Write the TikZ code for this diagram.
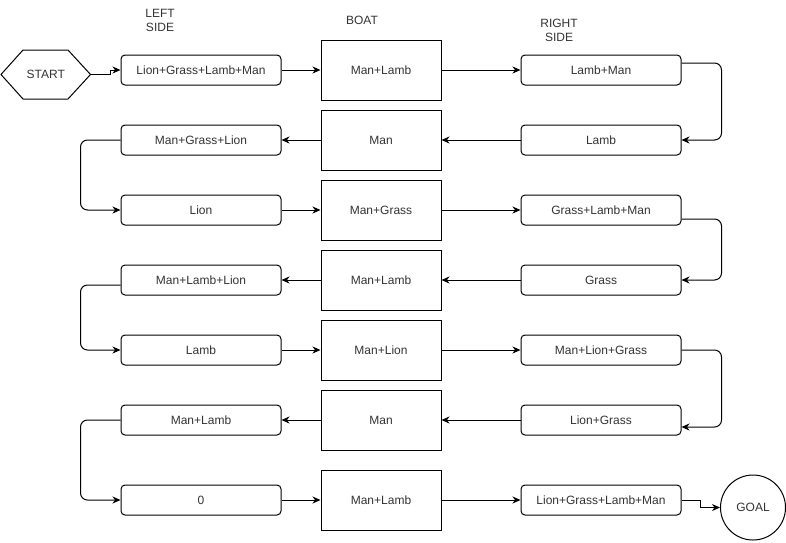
\documentclass[tikz,border=0pt]{standalone}
\usepackage{fontspec}
\setmainfont{Liberation Sans}
\usetikzlibrary{arrows.meta}

\begin{document}
\begin{tikzpicture}[
    x=1pt, y=-1pt,
    font=\fontsize{12}{14}\selectfont,
    every node/.style={text=black!80},
    side/.style={draw=black, line width=1pt, rounded corners=4pt,
                 minimum width=160pt, minimum height=30pt, inner sep=0pt},
    boat/.style={draw=black, line width=1pt,
                 minimum width=120pt, minimum height=60pt, inner sep=0pt},
    head/.style={align=center, inner sep=0pt},
    link/.style={draw=black, line width=1pt, rounded corners=7pt,
                 -{Stealth[length=8pt,width=7pt,inset=2.5pt]}}
  ]
  \useasboundingbox (0,0) rectangle (786,542);

  % column headings
  \node[head] (hleft)  at (160,20.5) {LEFT\\SIDE};
  \node[head] (hboat)  at (362,20.5) {BOAT};
  \node[head] (hright) at (559,30.5) {RIGHT\\SIDE};

  % start hexagon
  \draw[line width=1pt, line join=miter]
    (1,74.5) -- (23,50) -- (68,50) -- (90.5,74.5) -- (68,99) -- (23,99) -- cycle;
  \node[minimum width=89.5pt, minimum height=49pt, inner sep=0pt] (start) at (45.75,74.5) {START};

  % goal circle
  \node[draw=black, line width=1pt, circle, minimum size=65pt, inner sep=0pt] (goal) at (753,507.5) {GOAL};

  % rows: left bank, boat, right bank
  \node[side] (l1) at (201,70)  {Lion+Grass+Lamb+Man};
  \node[boat] (b1) at (381,70)  {Man+Lamb};
  \node[side] (r1) at (601,70)  {Lamb+Man};

  \node[side] (l2) at (201,140) {Man+Grass+Lion};
  \node[boat] (b2) at (381,140) {Man};
  \node[side] (r2) at (601,140) {Lamb};

  \node[side] (l3) at (201,210) {Lion};
  \node[boat] (b3) at (381,210) {Man+Grass};
  \node[side] (r3) at (601,210) {Grass+Lamb+Man};

  \node[side] (l4) at (201,280) {Man+Lamb+Lion};
  \node[boat] (b4) at (381,280) {Man+Lamb};
  \node[side] (r4) at (601,280) {Grass};

  \node[side] (l5) at (201,350) {Lamb};
  \node[boat] (b5) at (381,350) {Man+Lion};
  \node[side] (r5) at (601,350) {Man+Lion+Grass};

  \node[side] (l6) at (201,420) {Man+Lamb};
  \node[boat] (b6) at (381,420) {Man};
  \node[side] (r6) at (601,420) {Lion+Grass};

  \node[side] (l7) at (201,500) {0};
  \node[boat] (b7) at (381,500) {Man+Lamb};
  \node[side] (r7) at (601,500) {Lion+Grass+Lamb+Man};

  % start
  \draw[link, rounded corners=0pt] (start.east) -- ++(20,0) |- (l1.west);

  % crossings left to right
  \draw[link] (l1) -- (b1);  \draw[link] (b1) -- (r1);
  \draw[link] (l3) -- (b3);  \draw[link] (b3) -- (r3);
  \draw[link] (l5) -- (b5);  \draw[link] (b5) -- (r5);
  \draw[link] (l7) -- (b7);  \draw[link] (b7) -- (r7);

  % crossings right to left
  \draw[link] (r2) -- (b2);  \draw[link] (b2) -- (l2);
  \draw[link] (r4) -- (b4);  \draw[link] (b4) -- (l4);
  \draw[link] (r6) -- (b6);  \draw[link] (b6) -- (l6);

  % turn-arounds on the right bank
  \draw[link] ([yshift=7pt]r1.east) -| ([xshift=40pt]r2.east) -- (r2.east);
  \draw[link] ([yshift=-9pt]r3.east) -| ([xshift=40pt]r4.east) -- (r4.east);
  \draw[link] (r5.east) -| ([xshift=40pt,yshift=-7pt]r6.east) -- ([yshift=-7pt]r6.east);

  % turn-arounds on the left bank
  \draw[link] (l2.west) -| ([xshift=-40pt]l3.west) -- (l3.west);
  \draw[link] ([yshift=-5pt]l4.west) -| ([xshift=-40pt]l5.west) -- (l5.west);
  \draw[link] (l6.west) -| ([xshift=-40pt]l7.west) -- (l7.west);

  % finish
  \draw[link, rounded corners=0pt] (r7.east) -- ++(19,0) |- (goal.west);
\end{tikzpicture}
\end{document}
